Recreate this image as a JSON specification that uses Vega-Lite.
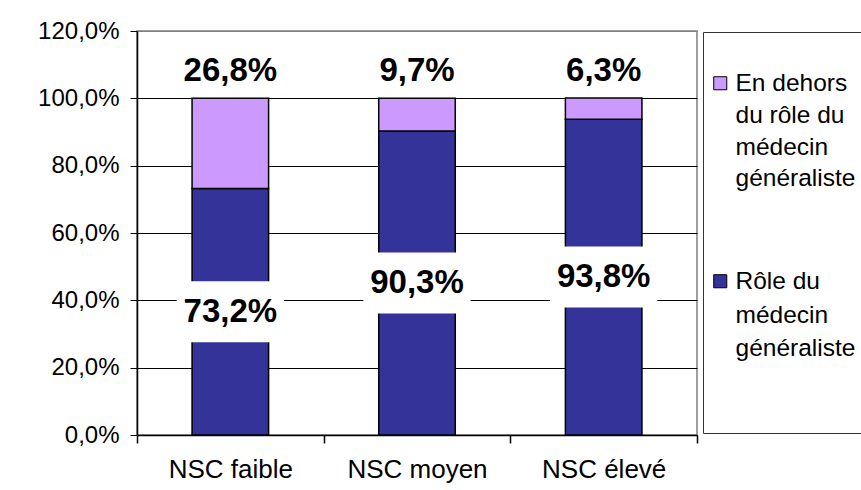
{
  "$schema": "https://vega.github.io/schema/vega-lite/v6.json",
  "width": 560,
  "height": 404,
  "autosize": {"type": "none"},
  "padding": {"left": 137, "top": 31, "right": 164, "bottom": 55},
  "background": "white",
  "config": {
    "font": "Liberation Sans",
    "view": {"stroke": "#808080", "strokeWidth": 1.5},
    "axis": {"labelFont": "Liberation Sans", "labelColor": "black", "domainColor": "black", "tickColor": "black"}
  },
  "data": {
    "values": [
      {"nsc": "NSC faible", "serie": "Rôle du médecin généraliste", "valeur": 73.2},
      {"nsc": "NSC faible", "serie": "En dehors du rôle du médecin généraliste", "valeur": 26.8},
      {"nsc": "NSC moyen", "serie": "Rôle du médecin généraliste", "valeur": 90.3},
      {"nsc": "NSC moyen", "serie": "En dehors du rôle du médecin généraliste", "valeur": 9.7},
      {"nsc": "NSC élevé", "serie": "Rôle du médecin généraliste", "valeur": 93.8},
      {"nsc": "NSC élevé", "serie": "En dehors du rôle du médecin généraliste", "valeur": 6.3}
    ]
  },
  "transform": [
    {"calculate": "replace(format(datum.valeur / 100, '.1%'), '.', ',')", "as": "lab"},
    {"calculate": "datum.valeur / 2", "as": "mid"},
    {"calculate": "datum.valeur / 2 - 9.06", "as": "lo"},
    {"calculate": "datum.valeur / 2 + 9.06", "as": "hi"}
  ],
  "encoding": {
    "x": {
      "field": "nsc",
      "type": "nominal",
      "sort": ["NSC faible", "NSC moyen", "NSC élevé"],
      "scale": {"paddingInner": 0, "paddingOuter": 0},
      "axis": {
        "title": null,
        "labelAngle": 0,
        "labelFontSize": 26,
        "labelPadding": 13,
        "ticks": true,
        "tickBand": "extent",
        "tickSize": 8,
        "tickWidth": 1.5,
        "grid": false,
        "domainWidth": 1.5
      }
    }
  },
  "layer": [
    {
      "mark": {"type": "bar", "stroke": "black", "strokeWidth": 1.5, "width": {"band": 0.41}},
      "encoding": {
        "y": {
          "field": "valeur",
          "type": "quantitative",
          "stack": "zero",
          "scale": {"domain": [0, 120], "nice": false},
          "axis": {
            "title": null,
            "values": [0, 20, 40, 60, 80, 100, 120],
            "labelExpr": "replace(format(datum.value / 100, '.1%'), '.', ',')",
            "labelFontSize": 24,
            "labelPadding": 11,
            "tickSize": 7,
            "domainWidth": 1.5,
            "gridColor": {"condition": {"test": "datum.value >= 120", "value": "#808080"}, "value": "black"},
            "gridWidth": 1,
            "gridOpacity": 1
          }
        },
        "color": {
          "field": "serie",
          "type": "nominal",
          "scale": {
            "domain": ["En dehors du rôle du médecin généraliste", "Rôle du médecin généraliste"],
            "range": ["#CC99FF", "#333399"]
          },
          "legend": {
            "orient": "none",
            "legendX": 566,
            "legendY": 1,
            "title": " ",
            "titleFontSize": 20,
            "titlePadding": 14,
            "padding": 5,
            "strokeColor": "#333333",
            "fillColor": "white",
            "symbolType": "square",
            "symbolSize": 170,
            "symbolStrokeColor": "black",
            "symbolStrokeWidth": 1,
            "labelFont": "Liberation Sans",
            "labelFontSize": 24.5,
            "labelColor": "black",
            "labelOffset": 3,
            "labelLimit": 400,
            "rowPadding": 78,
            "labelBaseline": "alphabetic",
            "labelExpr": "datum.label == 'Rôle du médecin généraliste' ? ['Rôle du', 'médecin', 'généraliste', '', ''] : ['En dehors', 'du rôle du', 'médecin', 'généraliste']",
            "encode": {"labels": {"update": {"lineHeight": {"signal": "datum.value == 'Rôle du médecin généraliste' ? 33.5 : 31.7"}, "dy": {"value": 8}}}}
          }
        },
        "order": {"field": "serie", "sort": "descending"}
      }
    },
    {
      "transform": [{"filter": "datum.serie == 'Rôle du médecin généraliste'"}],
      "mark": {"type": "bar", "fill": "white", "width": {"band": 0.574}},
      "encoding": {
        "y": {"field": "lo", "type": "quantitative"},
        "y2": {"field": "hi"}
      }
    },
    {
      "transform": [{"filter": "datum.serie == 'Rôle du médecin généraliste'"}],
      "mark": {"type": "text", "fontSize": 33, "fontWeight": "bold", "font": "Liberation Sans", "color": "black"},
      "encoding": {
        "y": {"field": "mid", "type": "quantitative"},
        "text": {"field": "lab"}
      }
    },
    {
      "transform": [{"filter": "datum.serie == 'En dehors du rôle du médecin généraliste'"}],
      "mark": {"type": "text", "fontSize": 33, "fontWeight": "bold", "font": "Liberation Sans", "color": "black"},
      "encoding": {
        "y": {"datum": 108},
        "text": {"field": "lab"}
      }
    }
  ]
}
